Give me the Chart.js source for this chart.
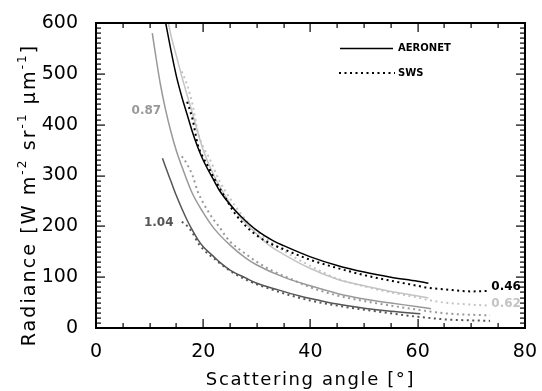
<!DOCTYPE html>
<html>
<head>
<meta charset="utf-8">
<script src="https://cdn.jsdelivr.net/npm/chart.js@4"></script>
<style>
  html, body { margin: 0; padding: 0; background: #fff; }
  #wrap { width: 542px; height: 391px; position: relative; }
</style>
</head>
<body>
<div id="wrap"><canvas id="myChart"></canvas></div>
<script>
// values (scattering angle in deg, radiance)
var angAero046 = [13, 14, 15, 16, 17, 18, 19, 20, 22, 23, 25, 27, 30, 33, 35, 40, 45, 50, 55, 60, 62];
var radAero046 = [600, 545, 495, 455, 420, 385, 355, 330, 290, 271, 243, 220, 192, 172, 162, 140, 123, 110, 100, 92, 88];
var angSws046 = [17, 18, 19, 20, 21, 22, 24, 26, 28, 30, 32, 35, 40, 45, 50, 55, 60, 62, 65, 70, 73.5];
var radSws046 = [445, 411, 360, 335, 316, 295, 258, 224, 200, 182, 169, 155, 134, 118, 104, 93, 83, 79, 76, 72, 73];

var angAero062 = [13.5, 14, 15, 16, 17, 18, 19, 20, 22, 24, 26, 28, 30, 32, 35, 40, 45, 50, 55, 60, 62];
var radAero062 = [600, 575, 535, 495, 458, 422, 385, 350, 300, 262, 230, 205, 185, 165, 145, 117, 96, 83, 72, 63, 59];
var angSws062 = [16, 17, 18, 19, 20, 21, 23, 25, 28, 30, 35, 40, 45, 50, 55, 60, 62, 65, 70, 73.5];
var radSws062 = [505, 478, 440, 385, 356, 337, 290, 255, 212, 190, 152, 122, 97, 82, 70, 60, 55, 50, 46, 44];

var angAero087 = [10.5, 11, 12, 13, 14, 15, 16, 18, 20, 22, 25, 28, 30, 35, 40, 45, 50, 55, 60, 62.5];
var radAero087 = [580, 545, 480, 428, 385, 348, 318, 264, 227, 196, 163, 137, 124, 100, 83, 68, 57, 49, 42, 38];
var angSws087 = [16, 17, 18, 19, 20, 21, 22, 23, 24, 25, 28, 30, 33, 36, 40, 45, 50, 55, 60, 62, 65, 70, 73.5];
var radSws087 = [338, 322, 300, 268, 246, 228, 212, 199, 183, 170, 145, 130, 112, 98, 80, 64, 53, 44, 36, 33, 29, 26, 25];

var angAero104 = [12.4, 13, 14, 15, 16, 17, 18, 19, 20, 22, 23, 25, 28, 30, 34, 38, 40, 45, 50, 55, 60.5];
var radAero104 = [334, 316, 288, 260, 235, 212, 192, 174, 160, 140, 130, 114, 98, 88, 75, 63, 58, 47, 39, 33, 28];
var angSws104 = [16, 17, 18, 19, 20, 21, 22, 23, 24, 26, 28, 30, 33, 36, 40, 45, 50, 55, 60, 62, 65, 70, 73.5];
var radSws104 = [209, 201, 187, 168, 155, 145, 137, 128, 120, 106, 95, 86, 75, 65, 54, 44, 36, 29, 22, 20, 17, 15, 14];

// curve annotations: text, angle, radiance
var curveLabels = ['0.46', '0.62', '0.87', '1.04'];
var curveLabelAng = [76.5, 76.5, 9.4, 11.7];
var curveLabelRad = [81, 47, 427, 207];

var xTicks = [0, 20, 40, 60, 80];
var yTicks = [0, 100, 200, 300, 400, 500, 600];

var black = '#000000', light = '#c4c4c4', mid = '#999999', dark = '#555555';
var labelColors = [black, light, mid, dark];

function pts(xs, ys) {
  return xs.map(function(x, i) { return { x: x, y: ys[i] }; });
}
function solid(xs, ys, color) {
  return { data: pts(xs, ys), borderColor: color, borderWidth: 1.5, pointRadius: 0,
           cubicInterpolationMode: 'monotone', fill: false };
}
function dotted(xs, ys, color) {
  return { data: pts(xs, ys), borderColor: color, borderWidth: 2, borderDash: [2, 3.5],
           pointRadius: 0, cubicInterpolationMode: 'monotone', fill: false };
}

// frame, inward ticks, titles, legend and curve labels
var decor = {
  id: 'decor',
  afterDraw: function(chart) {
    var ctx = chart.ctx, a = chart.chartArea;
    var xs = chart.scales.x, ys = chart.scales.y;
    var L = Math.round(a.left), R = Math.round(a.right), T = Math.round(a.top), B = Math.round(a.bottom);
    ctx.save();
    ctx.fillStyle = '#000';
    // frame
    ctx.fillRect(L - 1, T - 1, R - L + 2, 2);
    ctx.fillRect(L - 1, B - 1, R - L + 2, 2);
    ctx.fillRect(L - 1, T - 1, 2, B - T + 2);
    ctx.fillRect(R - 1, T - 1, 2, B - T + 2);
    // inward ticks
    for (var v = 0; v <= 80; v += 5) {
      var px = Math.round(xs.getPixelForValue(v));
      var len = (v % 20 === 0) ? 9 : 5;
      ctx.fillRect(px - 0.5, B - len, 1.2, len);
      ctx.fillRect(px - 0.5, T, 1.2, len);
    }
    for (var w = 0; w <= 600; w += 10) {
      var py = Math.round(ys.getPixelForValue(w));
      var l2 = (w % 100 === 0) ? 9 : 5;
      ctx.fillRect(L, py - 0.5, l2, 1.2);
      ctx.fillRect(R - l2, py - 0.5, l2, 1.2);
    }

    // x title
    ctx.font = '18px "DejaVu Sans"';
    ctx.letterSpacing = '1.6px';
    ctx.textAlign = 'center';
    ctx.textBaseline = 'middle';
    ctx.fillText('Scattering angle [°]', (a.left + a.right) / 2, 380);

    // y title with superscripts
    ctx.letterSpacing = '2.1px';
    var parts = [['Radiance [W m', 0], ['-2', 1], [' sr', 0], ['-1', 1], [' µm', 0], ['-1', 1], [']', 0]];
    var big = '19px "DejaVu Sans"', small = '12px "DejaVu Sans"';
    var total = 0;
    parts.forEach(function(p) {
      ctx.font = p[1] ? small : big;
      total += ctx.measureText(p[0]).width;
    });
    ctx.save();
    ctx.translate(35, 195);
    ctx.rotate(-Math.PI / 2);
    ctx.textAlign = 'left';
    ctx.textBaseline = 'alphabetic';
    var cx = -total / 2;
    parts.forEach(function(p) {
      ctx.font = p[1] ? small : big;
      ctx.fillText(p[0], cx, p[1] ? -9 : 0);
      cx += ctx.measureText(p[0]).width;
    });
    ctx.restore();
    ctx.letterSpacing = '0px';

    // legend
    ctx.strokeStyle = '#000';
    ctx.lineWidth = 1.5;
    ctx.beginPath();
    ctx.moveTo(340, 48.5); ctx.lineTo(393, 48.5);
    ctx.stroke();
    ctx.lineWidth = 2;
    ctx.setLineDash([2, 3.5]);
    ctx.beginPath();
    ctx.moveTo(339, 73); ctx.lineTo(395, 73);
    ctx.stroke();
    ctx.setLineDash([]);
    ctx.font = 'bold 10px "DejaVu Sans"';
    ctx.textAlign = 'left';
    ctx.textBaseline = 'middle';
    ctx.fillText('AERONET', 398, 48);
    ctx.fillText('SWS', 398, 73);

    // curve labels
    ctx.font = 'bold 12px "DejaVu Sans"';
    ctx.textAlign = 'center';
    curveLabels.forEach(function(t, i) {
      ctx.fillStyle = labelColors[i];
      ctx.fillText(t, xs.getPixelForValue(curveLabelAng[i]), ys.getPixelForValue(curveLabelRad[i]));
    });
    ctx.restore();
  }
};

var ctx = document.getElementById('myChart').getContext('2d');
var myChart = new Chart(ctx, {
  type: 'line',
  data: {
    datasets: [
      solid(angAero046, radAero046, black),
      dotted(angSws046, radSws046, black),
      solid(angAero062, radAero062, light),
      dotted(angSws062, radSws062, light),
      solid(angAero087, radAero087, mid),
      dotted(angSws087, radSws087, mid),
      solid(angAero104, radAero104, dark),
      dotted(angSws104, radSws104, dark)
    ]
  },
  options: {
    responsive: true,
    maintainAspectRatio: false,
    animation: false,
    layout: { padding: { top: 23, right: 14, left: 0, bottom: 0 } },
    plugins: { legend: { display: false }, tooltip: { enabled: false } },
    scales: {
      x: {
        type: 'linear', min: 0, max: 80,
        afterFit: function(s) { s.height = 63; },
        afterBuildTicks: function(s) { s.ticks = xTicks.map(function(v) { return { value: v }; }); },
        grid: { display: false }, border: { display: false },
        ticks: { color: '#000', font: { family: 'DejaVu Sans', size: 19 }, padding: 5, maxRotation: 0 }
      },
      y: {
        min: 0, max: 600,
        afterFit: function(s) { s.width = 96; },
        afterBuildTicks: function(s) { s.ticks = yTicks.map(function(v) { return { value: v }; }); },
        grid: { display: false }, border: { display: false },
        ticks: { color: '#000', font: { family: 'DejaVu Sans', size: 19 }, padding: 10 }
      }
    }
  },
  plugins: [decor]
});
</script>
</body>
</html>
